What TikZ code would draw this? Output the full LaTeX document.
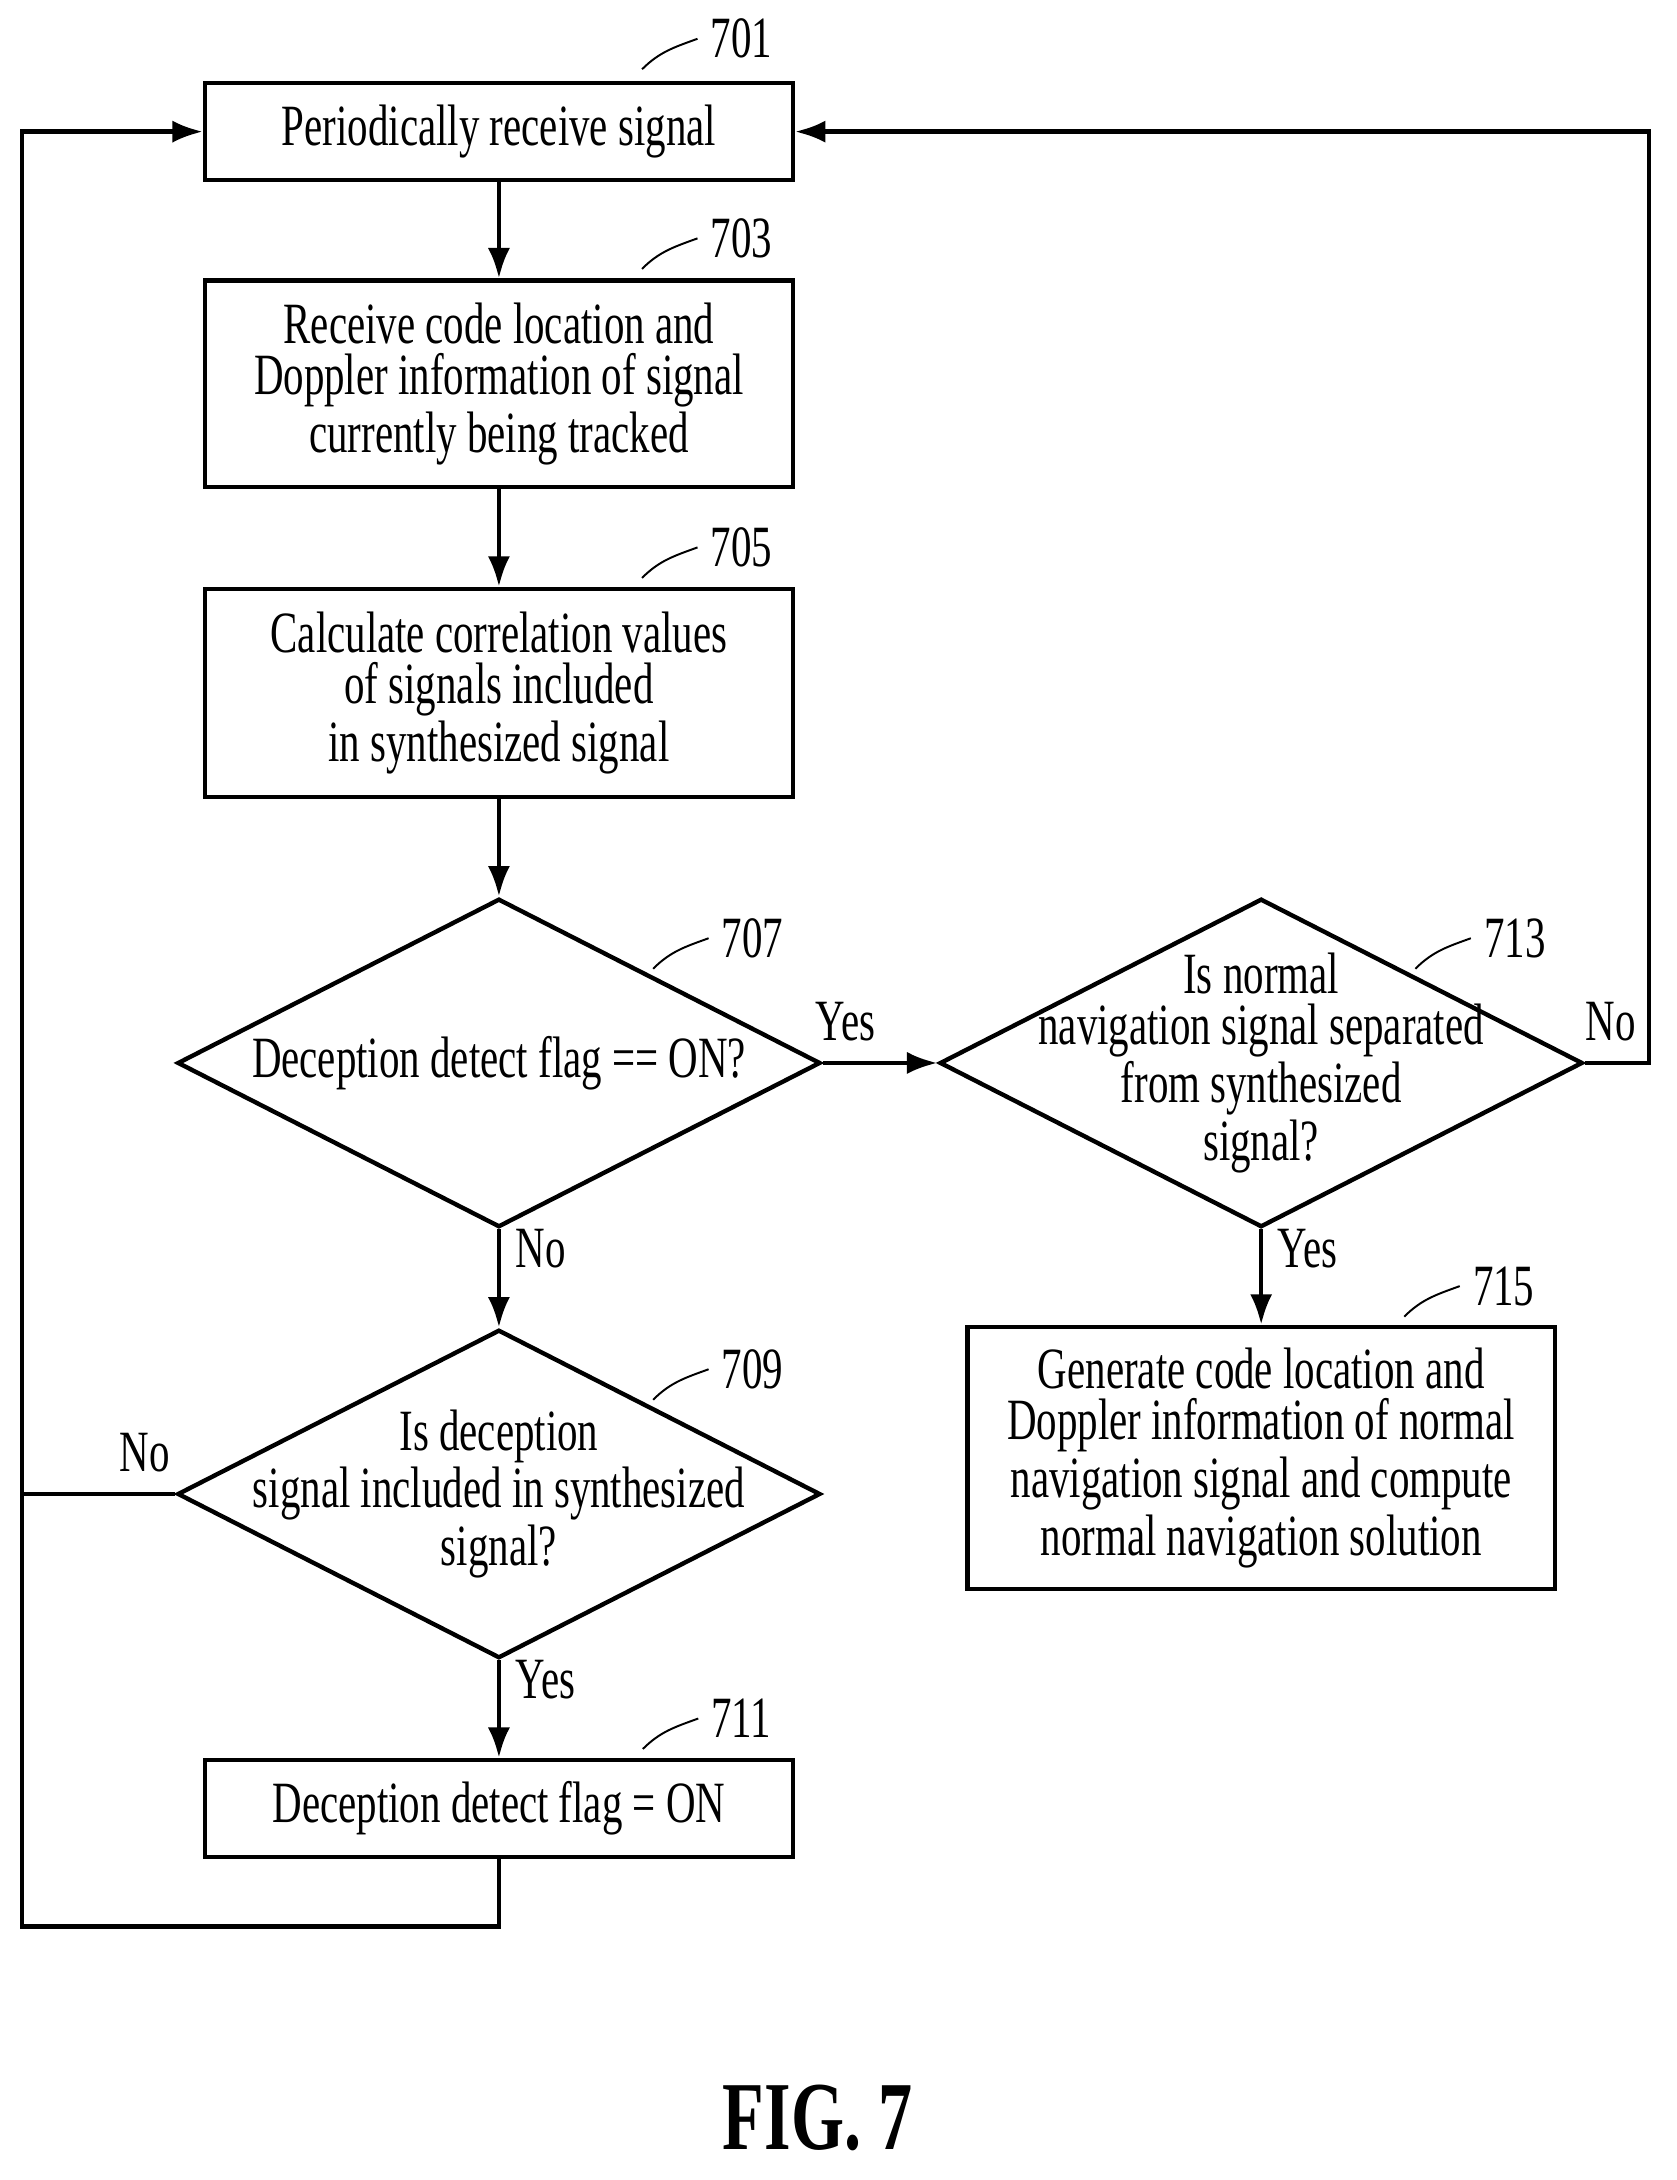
\documentclass[tikz,border=0pt]{standalone}
\usepackage{fontspec}
\setmainfont{Liberation Serif}[FakeStretch=0.7]
\usetikzlibrary{shapes.geometric,arrows.meta}
\begin{document}
\fontsize{12}{10.5}\selectfont
\begin{tikzpicture}[
        x=0.1mm, y=-0.1mm,
        line width=0.9pt,
        box/.style={draw, rectangle, minimum width=4.24cm, align=center, inner sep=0pt},
        dia/.style={draw, diamond, minimum width=4.64cm, minimum height=2.37cm, inner sep=0pt},
        txt/.style={align=center, inner sep=0pt},
        num/.style={inner sep=0pt, font=\fontsize{12}{12}\selectfont},
        arr/.style={-{Latex[length=2.2mm,width=1.6mm]}},
    ]
    \useasboundingbox (0,0) rectangle (1210,1573);

    % Kaesten
    \node[box, minimum height=0.70cm] (b701) at (360,95) {Periodically receive signal};
    \node[box, minimum height=1.49cm] (b703) at (360,277) {Receive code location and\\Doppler information of signal\\currently being tracked};
    \node[box, minimum height=1.50cm] (b705) at (360,500) {Calculate correlation values\\of signals included\\in synthesized signal};
    \node[dia] (d707) at (360,767) {};
    \node[txt] (t707) at (d707) {Deception detect flag == ON?};
    \node[dia] (d713) at (910,767) {};
    \node[txt] (t713) at (d713) {Is normal\\navigation signal separated\\from synthesized\\signal?};
    \node[dia] (d709) at (360,1078) {};
    \node[txt] (t709) at (d709) {Is deception\\signal included in synthesized\\signal?};
    \node[box, minimum height=0.70cm] (b711) at (360,1305) {Deception detect flag = ON};
    \node[box, minimum width=4.24cm, minimum height=1.89cm] (b715) at (910,1052) {Generate code location and\\Doppler information of normal\\navigation signal and compute\\normal navigation solution};

    % Nummern
    \foreach \n/\x/\y in {701/535/28, 703/535/172, 705/535/395, 707/543/677,
                          709/543/988, 711/535/1240, 713/1093/677, 715/1085/928} {
        \node[num] (n\n) at (\x,\y) {\n};
        \draw[line width=0.4pt] ([xshift=-0.8mm]n\n.west) to[out=200,in=45] ++(-40,22);
    }

    % Pfeile
    \draw[arr] (d707.east) -- node[pos=0.2, above=4pt, txt] {Yes} (d713.west);
    \draw[arr] (b701) -- (b703);
    \draw[arr] (b703) -- (b705);
    \draw[arr] (b705) -- (d707);
    \draw[arr] (d707) -- node[pos=0.2, right=3pt, txt] {No} (d709);
    \draw[arr] (d713) -- node[pos=0.2, right=3pt, txt] {Yes} (b715);
    \draw[arr] (d709) -- node[pos=0.2, right=3pt, txt] {Yes} (b711);

    \coordinate (c1) at (16,1390);
    \coordinate (c2) at (1190,767);
    \draw[arr] (b711.south) |- (c1) -- (16,95) -- (b701.west);
    \draw (d709.west) -- node[above=4pt, pos=0.2, txt] {No} (16,1078);
    \draw[arr] (d713.east) -- node[above=4pt, pos=0.4, txt] {No} (c2) -- (1190,95) -- (b701.east);

    \node[txt, font=\fontsize{20}{20}\bfseries\selectfont] (fig) at (590,1528) {FIG. 7};
\end{tikzpicture}
\end{document}
